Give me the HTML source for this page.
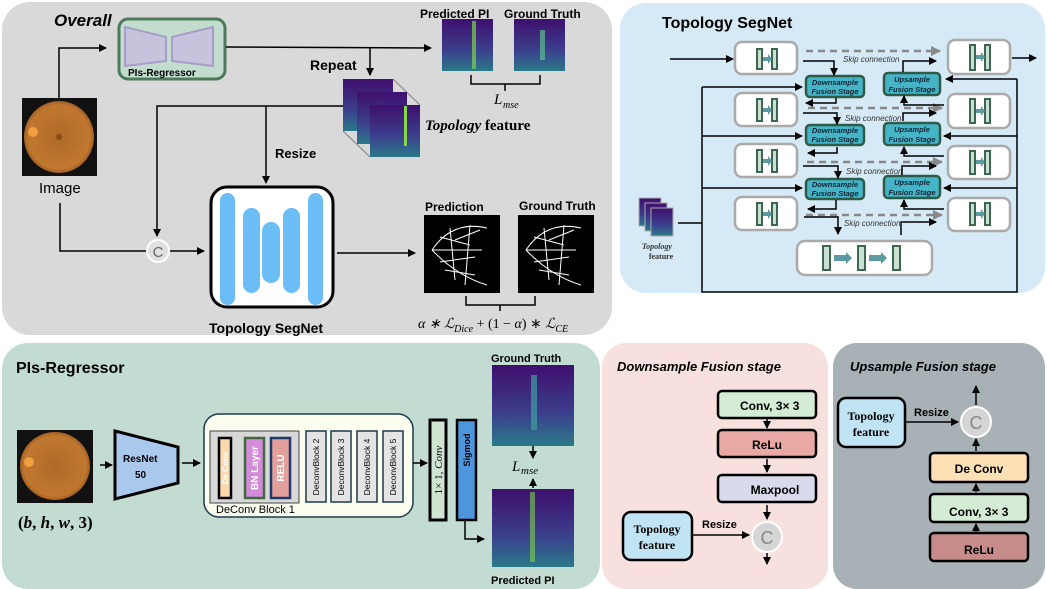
<!DOCTYPE html>
<html><head><meta charset="utf-8"><style>
html,body{margin:0;padding:0;background:#fff;width:1047px;height:589px;overflow:hidden}
svg{display:block}
text{font-family:"Liberation Sans",sans-serif}
.b{font-weight:bold}
.s{font-family:"Liberation Serif",serif}
</style></head><body>
<svg width="1047" height="589" viewBox="0 0 1047 589" xmlns="http://www.w3.org/2000/svg">
<defs>
<marker id="ar" markerWidth="8" markerHeight="8" refX="7" refY="4" orient="auto" markerUnits="userSpaceOnUse"><path d="M0,0 L8,4 L0,8 z" fill="#000"/></marker>
<marker id="ag" markerWidth="10" markerHeight="10" refX="9" refY="5" orient="auto" markerUnits="userSpaceOnUse"><path d="M0,0 L10,5 L0,10 z" fill="#888"/></marker>
<radialGradient id="eye" cx="0.5" cy="0.5" r="0.55"><stop offset="0" stop-color="#b06a28"/><stop offset="0.8" stop-color="#c07830"/><stop offset="1" stop-color="#8a4a18"/></radialGradient>
<linearGradient id="hm" x1="0" y1="0" x2="0" y2="1"><stop offset="0" stop-color="#3f0f6e"/><stop offset="0.6" stop-color="#3b3f8c"/><stop offset="1" stop-color="#2a7a8a"/></linearGradient>
</defs>

<rect x="2" y="2" width="610" height="333" rx="28" fill="#d9d9d9"/>
<rect x="620" y="3" width="425" height="290" rx="26" fill="#d5eaf6"/>
<rect x="2" y="343" width="598" height="246" rx="26" fill="#c3dcd2"/>
<rect x="602" y="343" width="226" height="246" rx="24" fill="#f7e0de"/>
<rect x="833" y="343" width="212" height="246" rx="24" fill="#a7b1b6"/>

<!-- OVERALL -->
<text x="54" y="26" class="b" font-size="17" font-style="italic">Overall</text>
<rect x="119" y="19" width="106" height="60" rx="9" fill="#c2dccd" stroke="#4d7a5c" stroke-width="3"/>
<polygon points="125,27 166,37 166,61 125,66" fill="#c8c3dd" stroke="#a89cc8" stroke-width="2"/>
<polygon points="172,37 213,27 213,66 172,61" fill="#c8c3dd" stroke="#a89cc8" stroke-width="2"/>
<text x="128" y="76" font-size="10" class="b">PIs-Regressor</text>
<rect x="22" y="98" width="75" height="78" fill="#111"/>
<ellipse cx="59" cy="137" rx="35" ry="36" fill="url(#eye)"/>
<circle cx="33" cy="132" r="5" fill="#f0a040"/>
<circle cx="59" cy="137" r="3" fill="#8a4a18"/>
<text x="39" y="193" font-size="15">Image</text>
<polyline points="59,98 59,48 106,48" fill="none" stroke="#000" stroke-width="1.5" marker-end="url(#ar)"/>
<line x1="226" y1="47" x2="431" y2="48" stroke="#000" stroke-width="1.5" marker-end="url(#ar)"/>
<line x1="370" y1="48" x2="370" y2="75" stroke="#000" stroke-width="1.5" marker-end="url(#ar)"/>
<text x="310" y="70" font-size="14" class="b">Repeat</text>
<text x="420" y="18" font-size="12" class="b">Predicted PI</text>
<text x="504" y="18" font-size="12" class="b">Ground Truth</text>
<rect x="442" y="19" width="51" height="52" fill="url(#hm)"/>
<rect x="472" y="21" width="4" height="48" fill="#7fd34e" opacity="0.7"/>
<rect x="514" y="19" width="51" height="52" fill="url(#hm)"/>
<rect x="540" y="30" width="5" height="30" fill="#5ac08a" opacity="0.7"/>
<path d="M471,75 v9 h69 v-9 M505,84 v7" fill="none" stroke="#000" stroke-width="1.5"/>
<text x="494" y="104" font-size="15" class="s" font-style="italic">L</text><text x="503" y="108" font-size="10" class="s" font-style="italic">mse</text>
<g stroke="#888" stroke-width="1.2" fill="none"><path d="M343,79 L370,105 M393,79 L420,105 M343,131 L370,157 M393,131 L420,157"/></g>
<rect x="343" y="79" width="50" height="52" fill="url(#hm)"/>
<rect x="357" y="92" width="50" height="52" fill="url(#hm)"/>
<rect x="370" y="105" width="50" height="52" fill="url(#hm)"/>
<rect x="404" y="106" width="3" height="40" fill="#8ad64a"/>
<text x="425" y="130" font-size="15" class="s" font-style="italic" font-weight="bold">Topology <tspan font-style="normal">feature</tspan></text>
<polyline points="343,106 157,106 157,236" fill="none" stroke="#000" stroke-width="1.5" marker-end="url(#ar)"/>
<line x1="266" y1="106" x2="266" y2="183" stroke="#000" stroke-width="1.5" marker-end="url(#ar)"/>
<text x="275" y="158" font-size="13" class="b">Resize</text>
<polyline points="60,203 60,251 146,251" fill="none" stroke="#000" stroke-width="1.5"/>
<circle cx="158" cy="251" r="11" fill="#e0e0e0" stroke="#fff" stroke-width="2"/>
<text x="158" y="257" font-size="15" text-anchor="middle" fill="#666">C</text>
<line x1="170" y1="251" x2="204" y2="251" stroke="#000" stroke-width="1.5" marker-end="url(#ar)"/>
<rect x="211" y="187" width="122" height="120" rx="16" fill="#fff" stroke="#000" stroke-width="3"/>
<rect x="220" y="193" width="15" height="112" rx="7.5" fill="#6bbdf5"/>
<rect x="243" y="208" width="17" height="85" rx="8.5" fill="#6bbdf5"/>
<rect x="262" y="222" width="18" height="61" rx="9" fill="#6bbdf5"/>
<rect x="283" y="208" width="17" height="85" rx="8.5" fill="#6bbdf5"/>
<rect x="308" y="193" width="15" height="112" rx="7.5" fill="#6bbdf5"/>
<text x="209" y="333" font-size="14" class="b">Topology SegNet</text>
<line x1="337" y1="253" x2="415" y2="253" stroke="#000" stroke-width="1.5" marker-end="url(#ar)"/>
<text x="425" y="211" font-size="12" class="b">Prediction</text>
<text x="519" y="210" font-size="12" class="b">Ground Truth</text>
<rect x="424" y="215" width="76" height="78" fill="#000"/>
<rect x="518" y="215" width="76" height="78" fill="#000"/>
<g stroke="#fff" stroke-width="1" fill="none">
<path d="M432,250 q20,-30 55,-22 M432,250 q25,26 55,35 M440,237 l30,8 M440,262 l35,-5 M450,228 l5,52 M470,225 l-5,60 M432,250 h50 M455,240 l25,-10 M445,270 l30,5"/>
<path d="M526,250 q20,-30 55,-22 M526,250 q25,26 55,35 M534,237 l30,8 M534,262 l35,-5 M544,228 l5,52 M564,225 l-5,60 M526,250 h50 M549,240 l25,-10 M539,270 l30,5"/>
</g>
<path d="M466,296 v9 h69 v-9 M500,305 v6" fill="none" stroke="#000" stroke-width="1.5"/>
<text x="418" y="328" font-size="14" class="s" font-style="italic">α ∗ ℒ<tspan font-size="10" dy="4">Dice</tspan><tspan font-style="normal" dy="-4"> + (1 − </tspan>α<tspan font-style="normal">) ∗ </tspan>ℒ<tspan font-size="10" dy="4">CE</tspan></text>

<!-- TOPOLOGY SEGNET -->
<text x="662" y="28" font-size="16" class="b">Topology SegNet</text>
<g fill="#fff" stroke="#aaa" stroke-width="2.5">
<rect x="735" y="42" width="62" height="32" rx="7"/>
<rect x="735" y="93" width="62" height="33" rx="7"/>
<rect x="735" y="144" width="62" height="33" rx="7"/>
<rect x="735" y="197" width="62" height="33" rx="7"/>
<rect x="948" y="40" width="62" height="34" rx="7"/>
<rect x="948" y="94" width="62" height="34" rx="7"/>
<rect x="948" y="146" width="62" height="33" rx="7"/>
<rect x="948" y="198" width="62" height="33" rx="7"/>
<rect x="797" y="241" width="135" height="34" rx="8"/>
</g>
<g fill="#c9e0d2" stroke="#3d6650" stroke-width="2">
<rect x="757" y="49" width="5" height="20"/><rect x="772" y="49" width="5" height="20"/>
<rect x="757" y="99" width="5" height="22"/><rect x="772" y="99" width="5" height="22"/>
<rect x="757" y="150" width="5" height="22"/><rect x="772" y="150" width="5" height="22"/>
<rect x="757" y="203" width="5" height="22"/><rect x="772" y="203" width="5" height="22"/>
<rect x="970" y="45" width="5" height="25"/><rect x="985" y="45" width="5" height="25"/>
<rect x="970" y="99" width="5" height="24"/><rect x="985" y="99" width="5" height="24"/>
<rect x="970" y="151" width="5" height="23"/><rect x="985" y="151" width="5" height="23"/>
<rect x="970" y="203" width="5" height="22"/><rect x="985" y="203" width="5" height="22"/>
<rect x="823" y="246" width="7" height="24"/><rect x="858" y="246" width="7" height="24"/><rect x="893" y="246" width="7" height="24"/>
</g>
<g fill="#5b9aa0">
<path d="M763,57 h5 v-3 l4,5 l-4,5 v-3 h-5z"/><path d="M763,108 h5 v-3 l4,5 l-4,5 v-3 h-5z"/><path d="M763,159 h5 v-3 l4,5 l-4,5 v-3 h-5z"/><path d="M763,212 h5 v-3 l4,5 l-4,5 v-3 h-5z"/>
<path d="M976,55 h5 v-3 l4,5 l-4,5 v-3 h-5z"/><path d="M976,109 h5 v-3 l4,5 l-4,5 v-3 h-5z"/><path d="M976,160 h5 v-3 l4,5 l-4,5 v-3 h-5z"/><path d="M976,212 h5 v-3 l4,5 l-4,5 v-3 h-5z"/>
<path d="M834,255 h12 v-3 l6,6 l-6,6 v-3 h-12z"/><path d="M869,255 h12 v-3 l6,6 l-6,6 v-3 h-12z"/>
</g>
<g stroke="#888" stroke-width="2.5" stroke-dasharray="7,5">
<line x1="806" y1="51" x2="940" y2="51" marker-end="url(#ag)"/>
<line x1="808" y1="108" x2="942" y2="108" marker-end="url(#ag)"/>
<line x1="807" y1="162" x2="942" y2="162" marker-end="url(#ag)"/>
<line x1="806" y1="215" x2="942" y2="215" marker-end="url(#ag)"/>
</g>
<g font-size="8" font-style="italic" fill="#333">
<text x="843" y="62">Skip connection</text><text x="845" y="121">Skip connection</text><text x="846" y="174">Skip connection</text><text x="844" y="226">Skip connection</text>
</g>
<g fill="#45b4c6" stroke="#2e5a48" stroke-width="2.5">
<rect x="806" y="76" width="58" height="21" rx="4"/><rect x="806" y="125" width="58" height="20" rx="4"/><rect x="806" y="179" width="58" height="20" rx="4"/>
<rect x="884" y="73" width="56" height="22" rx="4"/><rect x="884" y="123" width="56" height="22" rx="4"/><rect x="884" y="176" width="56" height="22" rx="4"/>
</g>
<g font-size="7.5" font-weight="bold" font-style="italic" fill="#123" text-anchor="middle">
<text x="835" y="85">Downsample</text><text x="835" y="94">Fusion Stage</text>
<text x="835" y="133">Downsample</text><text x="835" y="142">Fusion Stage</text>
<text x="835" y="187">Downsample</text><text x="835" y="196">Fusion Stage</text>
<text x="912" y="82">Upsample</text><text x="912" y="92">Fusion Stage</text>
<text x="912" y="132">Upsample</text><text x="912" y="142">Fusion Stage</text>
<text x="912" y="185">Upsample</text><text x="912" y="195">Fusion Stage</text>
</g>
<g fill="none" stroke="#000" stroke-width="1.5">
<line x1="670" y1="59" x2="733" y2="59" marker-end="url(#ar)"/>
<line x1="1012" y1="58" x2="1036" y2="58" marker-end="url(#ar)"/>
<polyline points="803,61 834,61 834,75" marker-end="url(#ar)"/>
<polyline points="836,98 836,103 806,103" marker-end="url(#ar)"/>
<polyline points="803,113 837,113 837,124" marker-end="url(#ar)"/>
<polyline points="837,147 837,153 808,153" marker-end="url(#ar)"/>
<polyline points="803,166 838,166 838,178" marker-end="url(#ar)"/>
<polyline points="836,200 836,209 808,209" marker-end="url(#ar)"/>
<polyline points="804,217 838,217 838,234" marker-end="url(#ar)"/>
<polyline points="901,235 901,222 936,222" marker-end="url(#ar)"/>
<polyline points="944,209 904,209 904,200" marker-end="url(#ar)"/>
<polyline points="902,175 902,166 936,166" marker-end="url(#ar)"/>
<polyline points="944,156 904,156 904,147" marker-end="url(#ar)"/>
<polyline points="903,121 903,113 936,113" marker-end="url(#ar)"/>
<polyline points="944,105 904,105 904,96" marker-end="url(#ar)"/>
<polyline points="903,72 903,61 936,61" marker-end="url(#ar)"/>
<polyline points="678,223 702,223"/>
<polyline points="702,87 702,292 1017,292 1017,79"/>
<line x1="1017" y1="79" x2="946" y2="79" marker-end="url(#ar)"/>
<line x1="702" y1="87" x2="802" y2="87" marker-end="url(#ar)"/>
<line x1="702" y1="136" x2="802" y2="136" marker-end="url(#ar)"/>
<line x1="702" y1="188" x2="802" y2="188" marker-end="url(#ar)"/>
<line x1="1017" y1="136" x2="944" y2="136" marker-end="url(#ar)"/>
<line x1="1017" y1="188" x2="944" y2="188" marker-end="url(#ar)"/>
</g>
<rect x="639" y="198" width="22" height="28" fill="url(#hm)" stroke="#aaa"/>
<rect x="645" y="203" width="22" height="28" fill="url(#hm)" stroke="#aaa"/>
<rect x="651" y="208" width="22" height="28" fill="url(#hm)" stroke="#aaa"/>
<text x="657" y="249" font-size="8" class="s" font-style="italic" font-weight="bold" text-anchor="middle" fill="#333">Topology</text>
<text x="661" y="259" font-size="8" class="s" font-weight="bold" text-anchor="middle" fill="#333">feature</text>

<!-- PIs REGRESSOR -->
<text x="16" y="373" font-size="16" class="b">PIs-Regressor</text>
<rect x="17" y="430" width="76" height="73" fill="#111"/>
<ellipse cx="55" cy="466" rx="35" ry="34" fill="url(#eye)"/>
<circle cx="29" cy="462" r="5" fill="#f0a040"/>
<text x="18" y="528" font-size="17" class="s" font-weight="bold">(<tspan font-style="italic">b</tspan>, <tspan font-style="italic">h</tspan>, <tspan font-style="italic">w</tspan>, 3)</text>
<line x1="100" y1="465" x2="112" y2="465" stroke="#000" stroke-width="1.5" marker-end="url(#ar)"/>
<polygon points="115,431 178,447 178,483 115,499" fill="#a9c8ec" stroke="#000" stroke-width="3"/>
<text x="123" y="462" font-size="10" class="b">ResNet</text><text x="135" y="478" font-size="10" class="b">50</text>
<line x1="182" y1="463" x2="200" y2="463" stroke="#000" stroke-width="1.5" marker-end="url(#ar)"/>
<rect x="204" y="414" width="209" height="103" rx="15" fill="#fbfdef" stroke="#1d3a4a" stroke-width="1.5"/>
<rect x="210" y="431" width="89" height="72" fill="#d8d8d8" stroke="#444"/>
<rect x="219" y="438" width="12" height="60" fill="#fbd9ae" stroke="#000" stroke-width="2.5"/>
<rect x="245" y="438" width="19" height="60" fill="#d38ad8" stroke="#3e6a3e" stroke-width="2.5"/>
<rect x="271" y="438" width="19" height="60" fill="#e3a09b" stroke="#1d3a6a" stroke-width="2.5"/>
<g font-size="10" class="s" font-weight="bold" fill="#fff" text-anchor="middle">
<text transform="translate(228,468) rotate(-90)" font-size="8">De Conv</text>
<text transform="translate(258,468) rotate(-90)">BN Layer</text>
<text transform="translate(284,468) rotate(-90)">RELU</text>
</g>
<g fill="#e4e4e4" stroke="#1d3a4a" stroke-width="1.5">
<rect x="306" y="431" width="20" height="71"/><rect x="331" y="431" width="20" height="71"/><rect x="357" y="431" width="20" height="71"/><rect x="383" y="431" width="20" height="71"/>
</g>
<g font-size="8.5" fill="#000" text-anchor="middle">
<text transform="translate(319,467) rotate(-90)">DeconvBlock 2</text>
<text transform="translate(344,467) rotate(-90)">DeconvBlock 3</text>
<text transform="translate(370,467) rotate(-90)">DeconvBlock 4</text>
<text transform="translate(396,467) rotate(-90)">DeconvBlock 5</text>
</g>
<text x="216" y="513" font-size="11">DeConv Block 1</text>
<line x1="413" y1="463" x2="427" y2="463" stroke="#000" stroke-width="1.5" marker-end="url(#ar)"/>
<rect x="430" y="420" width="16" height="100" fill="#cfe5d2" stroke="#000" stroke-width="3"/>
<text transform="translate(442,470) rotate(-90)" font-size="11" class="s" text-anchor="middle">1× 1, <tspan font-style="italic">Conv</tspan></text>
<rect x="457" y="420" width="19" height="100" fill="#4e96db" stroke="#000" stroke-width="2.5"/>
<text transform="translate(470,450) rotate(-90)" font-size="9" class="b" text-anchor="middle">Sigmod</text>
<polyline points="465,520 465,539 484,539" fill="none" stroke="#000" stroke-width="1.5" marker-end="url(#ar)"/>
<text x="491" y="362" font-size="11" class="b">Ground Truth</text>
<rect x="492" y="365" width="82" height="81" fill="url(#hm)"/>
<rect x="531" y="375" width="6" height="55" fill="#40a0a0" opacity="0.7"/>
<rect x="492" y="489" width="82" height="78" fill="url(#hm)"/>
<rect x="530" y="492" width="5" height="70" fill="#7fd34e" opacity="0.6"/>
<text x="491" y="584" font-size="11" class="b">Predicted PI</text>
<line x1="533" y1="446" x2="533" y2="458" stroke="#000" stroke-width="1.5" marker-end="url(#ar)"/>
<line x1="533" y1="488" x2="533" y2="479" stroke="#000" stroke-width="1.5" marker-end="url(#ar)"/>
<text x="512" y="471" font-size="15" class="s" font-style="italic">L</text><text x="521" y="474" font-size="11" class="s" font-style="italic">mse</text>

<!-- DOWNSAMPLE -->
<text x="617" y="371" font-size="13" class="b" font-style="italic">Downsample Fusion stage</text>
<rect x="718" y="391" width="98" height="27" rx="4" fill="#d4ecd6" stroke="#000" stroke-width="2.5"/>
<text x="740" y="410" font-size="12" class="b">Conv, 3× 3</text>
<rect x="718" y="430" width="98" height="27" rx="4" fill="#e8a8a4" stroke="#000" stroke-width="2.5"/>
<text x="767" y="449" font-size="12" class="b" text-anchor="middle">ReLu</text>
<rect x="718" y="475" width="98" height="27" rx="4" fill="#d9daec" stroke="#000" stroke-width="2.5"/>
<text x="775" y="494" font-size="12" class="b" text-anchor="middle">Maxpool</text>
<g stroke="#000" stroke-width="1.5"><line x1="767" y1="418" x2="767" y2="428" marker-end="url(#ar)"/><line x1="767" y1="459" x2="767" y2="472" marker-end="url(#ar)"/><line x1="767" y1="505" x2="767" y2="519" marker-end="url(#ar)"/><line x1="767" y1="553" x2="767" y2="564" marker-end="url(#ar)"/><line x1="692" y1="535" x2="749" y2="535" marker-end="url(#ar)"/></g>
<circle cx="767" cy="537" r="15" fill="#d5d5d5" stroke="#fff" stroke-width="2"/>
<text x="767" y="544" font-size="18" text-anchor="middle" fill="#888">C</text>
<rect x="623" y="512" width="69" height="48" rx="8" fill="#c0e4f4" stroke="#000" stroke-width="2.5"/>
<text x="657" y="533" font-size="12" class="s" font-weight="bold" text-anchor="middle">Topology</text>
<text x="657" y="549" font-size="12" class="s" font-weight="bold" text-anchor="middle">feature</text>
<text x="702" y="528" font-size="11" class="b">Resize</text>

<!-- UPSAMPLE -->
<text x="850" y="371" font-size="13" class="b" font-style="italic">Upsample Fusion stage</text>
<rect x="838" y="398" width="67" height="49" rx="8" fill="#c0e4f4" stroke="#000" stroke-width="2.5"/>
<text x="871" y="420" font-size="12" class="s" font-weight="bold" text-anchor="middle">Topology</text>
<text x="871" y="436" font-size="12" class="s" font-weight="bold" text-anchor="middle">feature</text>
<text x="914" y="416" font-size="11" class="b">Resize</text>
<circle cx="976" cy="422" r="15" fill="#d5d5d5" stroke="#fff" stroke-width="2"/>
<text x="976" y="429" font-size="18" text-anchor="middle" fill="#888">C</text>
<rect x="930" y="453" width="98" height="29" rx="4" fill="#fde1b4" stroke="#000" stroke-width="2.5"/>
<text x="979" y="473" font-size="12" class="b" text-anchor="middle">De Conv</text>
<rect x="930" y="494" width="98" height="28" rx="4" fill="#d4ecd6" stroke="#000" stroke-width="2.5"/>
<text x="949" y="516" font-size="12" class="b">Conv, 3× 3</text>
<rect x="930" y="533" width="98" height="28" rx="4" fill="#c78c8a" stroke="#000" stroke-width="2.5"/>
<text x="979" y="554" font-size="12" class="b" text-anchor="middle">ReLu</text>
<g stroke="#000" stroke-width="1.5"><line x1="905" y1="422" x2="958" y2="422" marker-end="url(#ar)"/><line x1="976" y1="405" x2="976" y2="386" marker-end="url(#ar)"/><line x1="976" y1="451" x2="976" y2="439" marker-end="url(#ar)"/><line x1="976" y1="492" x2="976" y2="484" marker-end="url(#ar)"/><line x1="976" y1="532" x2="976" y2="524" marker-end="url(#ar)"/></g>
</svg>
</body></html>
